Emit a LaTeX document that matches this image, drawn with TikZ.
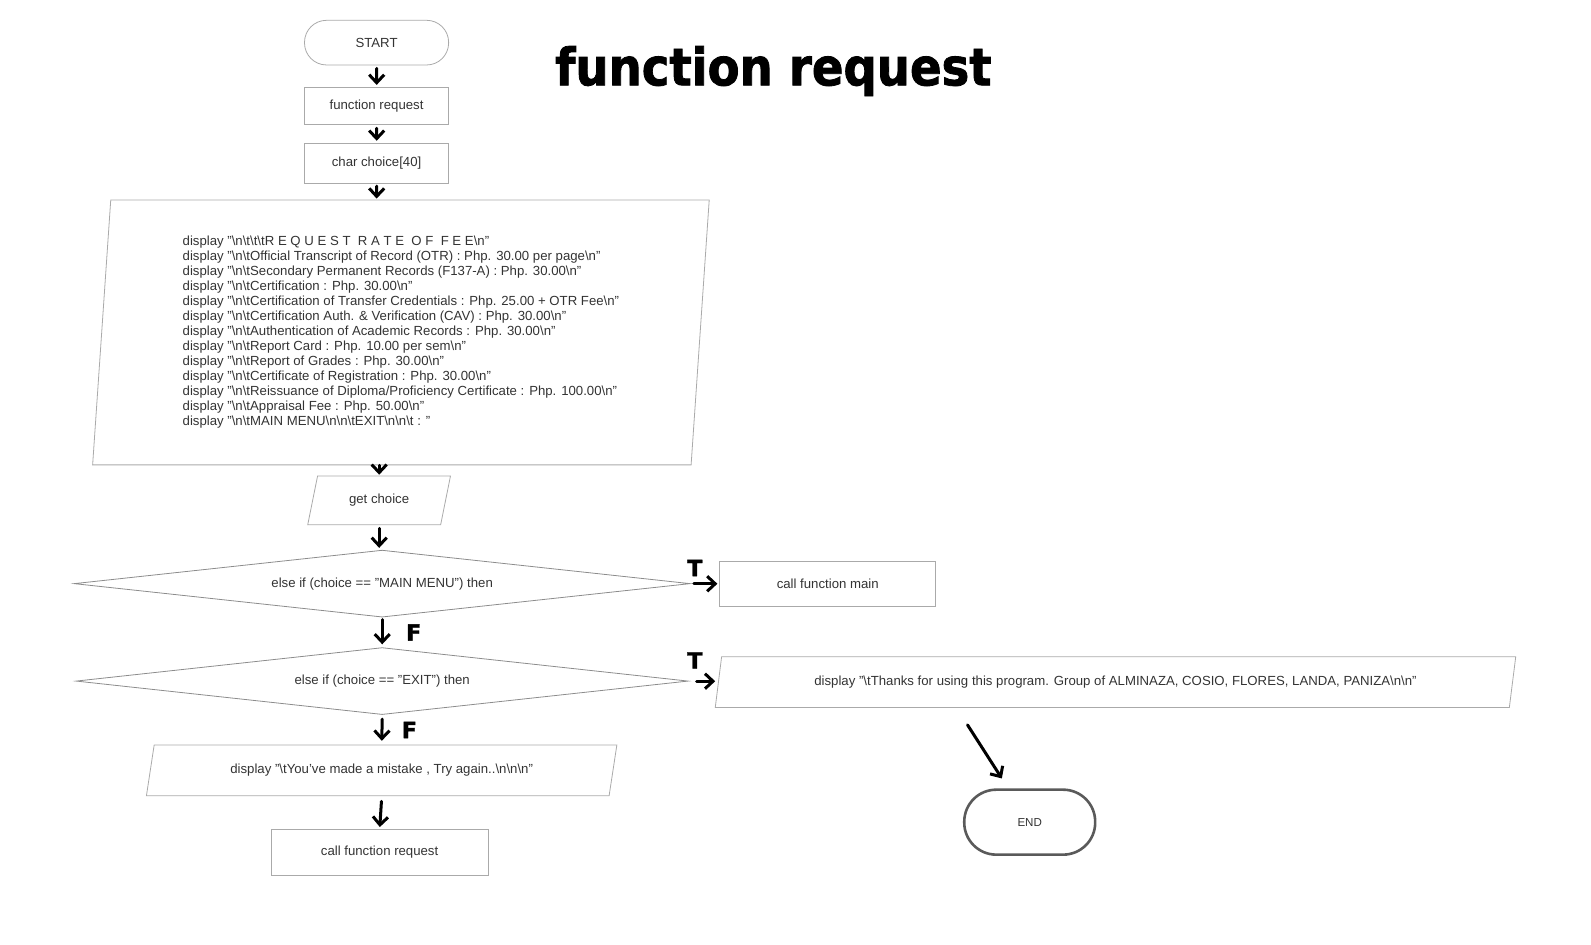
\documentclass[tikz,border=0pt]{standalone}
\usepackage{fontspec}
\setmainfont{Liberation Sans}
\newfontfamily\titlefont[BoldFeatures={FakeBold=1.5}]{DejaVu Sans Condensed}
\newfontfamily\handfont[BoldFeatures={FakeBold=1.5}]{DejaVu Sans}
\usetikzlibrary{shapes.geometric, arrows.meta, positioning}
\definecolor{boxgray}{RGB}{170,170,170}
\definecolor{diagray}{RGB}{140,140,140}
\definecolor{endgray}{RGB}{90,90,90}
\definecolor{txtgray}{RGB}{51,51,51}
\newcommand{\flowfont}{\fontsize{6.5}{7.4}\selectfont}
\tikzset{base/.style={draw=boxgray, text=txtgray, font=\flowfont, inner sep=1pt}}
\tikzset{procbox/.style={base, rectangle}}
\tikzset{termbox/.style={base, rectangle}}
\tikzset{iobox/.style={base, trapezium, trapezium stretches=true}}
\tikzset{decbox/.style={base, diamond, draw=diagray, aspect=9.2, inner sep=0pt}}
\tikzset{hand/.style={-{Straight Barb[length=4pt, width=7.5pt, line width=1.5pt]}, line width=1.5pt, line cap=round, line join=round}}
\tikzset{tf/.style={font=\handfont\bfseries\fontsize{11}{11}\selectfont, inner sep=0pt}}

\begin{document}
\begin{tikzpicture}[x=0.5pt, y=-0.5pt, scale=1.015, every node/.append style={transform shape}]
  \useasboundingbox (0,0) rectangle (1567.5,931);

  % --- title ---
  \node (title) at (762,70) {\titlefont\bfseries\fontsize{25.5}{25.5}\selectfont function request};

  % --- start up to the fee list ---
  \node[termbox, minimum width=71pt, minimum height=22pt, rounded corners=11pt] (start) at (371,42) {START};
  \node[procbox, minimum width=71pt, minimum height=18.5pt] (freq) at (371,104.5) {function request};
  \node[procbox, minimum width=71pt, minimum height=20pt] (chc) at (371,161) {char choice[40]};

  \node[iobox, trapezium left angle=86, trapezium right angle=94,
        minimum width=304pt, minimum height=130.5pt, align=left] (feebox) at (395,327.5) {%
    display "\textbackslash n\textbackslash t\textbackslash t\textbackslash tR E Q U E S T \ R A T E \ O F \ F E E\textbackslash n"\\
    display "\textbackslash n\textbackslash tOfficial Transcript of Record (OTR) : Php. 30.00 per page\textbackslash n"\\
    display "\textbackslash n\textbackslash tSecondary Permanent Records (F137-A) : Php. 30.00\textbackslash n"\\
    display "\textbackslash n\textbackslash tCertification : Php. 30.00\textbackslash n"\\
    display "\textbackslash n\textbackslash tCertification of Transfer Credentials : Php. 25.00 + OTR Fee\textbackslash n"\\
    display "\textbackslash n\textbackslash tCertification Auth. \& Verification (CAV) : Php. 30.00\textbackslash n"\\
    display "\textbackslash n\textbackslash tAuthentication of Academic Records : Php. 30.00\textbackslash n"\\
    display "\textbackslash n\textbackslash tReport Card : Php. 10.00 per sem\textbackslash n"\\
    display "\textbackslash n\textbackslash tReport of Grades : Php. 30.00\textbackslash n"\\
    display "\textbackslash n\textbackslash tCertificate of Registration : Php. 30.00\textbackslash n"\\
    display "\textbackslash n\textbackslash tReissuance of Diploma/Proficiency Certificate : Php. 100.00\textbackslash n"\\
    display "\textbackslash n\textbackslash tAppraisal Fee : Php. 50.00\textbackslash n"\\
    display "\textbackslash n\textbackslash tMAIN MENU\textbackslash n\textbackslash n\textbackslash tEXIT\textbackslash n\textbackslash n\textbackslash t : "};

  \draw[hand, shorten <=1.5pt, shorten >=1pt] (start) -- (freq);
  \draw[hand, shorten <=1.5pt, shorten >=1pt] (freq) -- (chc);
  \draw[hand, shorten <=1pt, shorten >=0.5pt] (chc) -- (chc |- feebox.north);

  % --- input and the two tests ---
  \node[iobox, trapezium left angle=72.6, trapezium right angle=107.4,
        minimum width=70.5pt, minimum height=24pt] (getch) at (373.5,493) {get choice};
  \draw[hand, shorten >=0.5pt] (getch.north |- feebox.south) -- (getch.north);

  \node[decbox, minimum width=303.5pt, minimum height=33pt] (ifmain) at (376.5,575) {else if (choice == "MAIN MENU") then};
  \draw[hand, shorten <=1.5pt, shorten >=1pt] (getch.south) -- (getch.south |- ifmain.north);

  \node[procbox, minimum width=106.5pt, minimum height=22pt] (callmain) at (815.5,575) {call function main};
  \draw[hand, shorten <=1.5pt, shorten >=1pt] (ifmain.east) -- (callmain.west)
    node[tf, at start, anchor=south, xshift=2pt, yshift=3pt] {T};

  \node[decbox, minimum width=301.5pt, minimum height=33pt] (ifexit) at (376.5,671) {else if (choice == "EXIT") then};
  \draw[hand, shorten <=1pt, shorten >=1.5pt] (ifmain.south) -- (ifexit.north)
    node[tf, midway, right=11pt] {F};

  % --- exit branch ---
  \node[iobox, trapezium left angle=73.3, trapezium right angle=106.7,
        minimum width=396pt, minimum height=25pt] (thanks) at (1099,672) {display "\textbackslash tThanks for using this program. Group of ALMINAZA, COSIO, FLORES, LANDA, PANIZA\textbackslash n\textbackslash n"};
  \draw[hand, shorten <=4pt, shorten >=1.5pt] (ifexit.east) -- (ifexit.east -| thanks.west)
    node[tf, at start, anchor=south, xshift=3pt, yshift=5.5pt] {T};

  \node[termbox, draw=endgray, line width=1.3pt, minimum width=64.5pt, minimum height=32pt,
        rounded corners=16pt, font=\fontsize{5.7}{6}\selectfont] (endnode) at (1014.5,810) {END};
  \coordinate (thx-out) at (953,714);
  \draw[hand, shorten >=6pt] (thx-out) -- (endnode);

  % --- mistake branch ---
  \node[iobox, trapezium left angle=72.3, trapezium right angle=107.7,
        minimum width=232pt, minimum height=25pt] (mistake) at (376,759) {display "\textbackslash tYou've made a mistake , Try again..\textbackslash n\textbackslash n\textbackslash n"};
  \draw[hand, shorten <=2pt, shorten >=2pt] (ifexit.south) -- (mistake.north)
    node[tf, midway, right=9pt] {F};

  \node[procbox, minimum width=107pt, minimum height=22.5pt] (callreq) at (374,839.5) {call function request};
  \draw[hand, shorten <=2.5pt, shorten >=1pt] (mistake.south) -- (callreq.north);

\end{tikzpicture}
\end{document}
